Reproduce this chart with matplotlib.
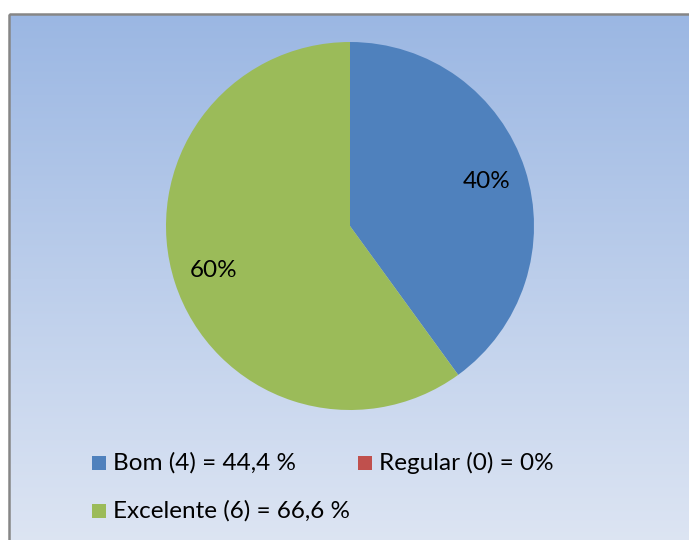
import matplotlib
matplotlib.use("Agg")
import matplotlib.pyplot as plt
import numpy as np
from matplotlib.patches import Rectangle
from matplotlib.colors import LinearSegmentedColormap

categories = ["Bom (4) = 44,4 %", "Regular (0) = 0%", "Excelente (6) = 66,6 %"]
values = [4, 0, 6]
colors = ["#4f81bd", "#c0504d", "#9bbb59"]

W, H = 689, 540
fig = plt.figure(figsize=(W / 100, H / 100), dpi=100)
fig.patch.set_facecolor("white")

# background gradient panel
bg = fig.add_axes([0, 0, 1, 1], zorder=0)
bg.set_xlim(0, W)
bg.set_ylim(H, 0)
bg.axis("off")
cmap = LinearSegmentedColormap.from_list("g", ["#9bb7e3", "#dde5f3"])
grad = np.linspace(0, 1, 256).reshape(-1, 1)
bg.imshow(grad, cmap=cmap, aspect="auto", extent=[9, W + 5, H + 5, 14], zorder=0)
bg.add_patch(Rectangle((8.5, 13.5), W + 10, H + 10, fill=False, edgecolor="#868686", lw=1.8, zorder=2))
bg.set_xlim(0, W)
bg.set_ylim(H, 0)

font = "Lato"
fs = 17.5

# pie
cx, cy, r = 350, 226, 184
ax = fig.add_axes([(cx - r) / W, 1 - (cy + r) / H, 2 * r / W, 2 * r / H], zorder=1)
ax.patch.set_alpha(0)


def fmt(p):
    return f"{p:.0f}%" if p > 0 else ""


wedges, texts, autotexts = ax.pie(values, colors=colors, startangle=90, counterclock=False,
                                  autopct=fmt, pctdistance=0.78, radius=1,
                                  wedgeprops=dict(linewidth=0))
for t in autotexts:
    t.set_fontfamily(font)
    t.set_fontsize(fs)
    t.set_color("black")
ax.set_xlim(-1, 1)
ax.set_ylim(-1, 1)
ax.set_aspect("equal")
ax.axis("off")

# legend
leg_pos = [(92, 463), (358, 463), (92, 511)]
for (x, y), lab, c in zip(leg_pos, categories, colors):
    bg.add_patch(Rectangle((x, y - 7), 14, 14, facecolor=c, edgecolor="none", zorder=3))
    bg.text(x + 21, y, lab, fontsize=fs, fontfamily=font, va="center", ha="left", color="black", zorder=3)

fig.savefig("out.png", dpi=100)
